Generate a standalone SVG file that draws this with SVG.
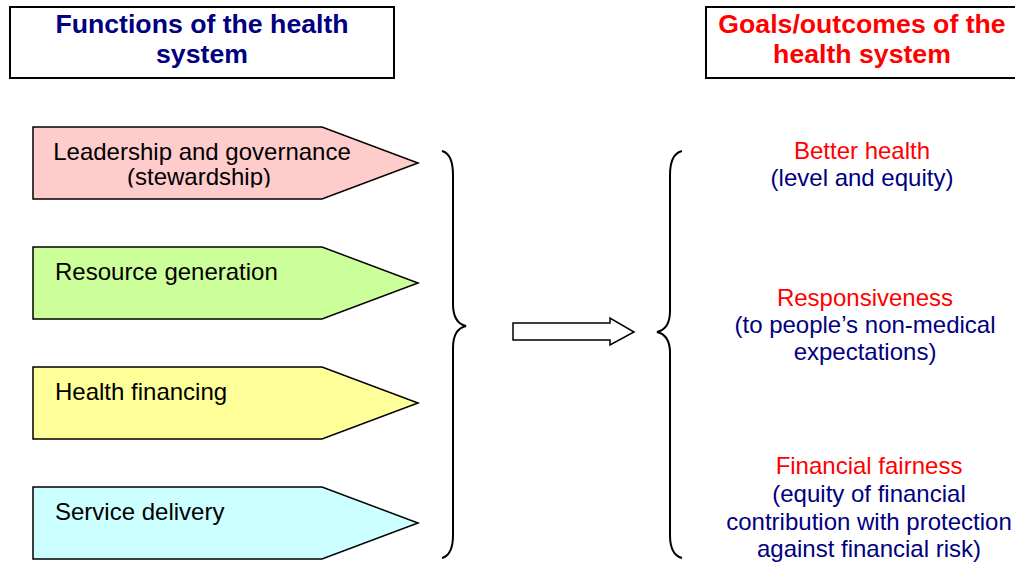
<svg xmlns="http://www.w3.org/2000/svg" width="1015" height="563" viewBox="0 0 1015 563">
  <style>
    .hdr { fill: #ffffff; stroke: #000000; stroke-width: 2; }
    .hdr-t { font-family: "Liberation Sans", Arial, sans-serif; font-size: 26.67px; font-weight: bold; text-anchor: middle; }
    .navy { fill: #000080; }
    .red { fill: #ff0000; }
    .penta { stroke: #000000; stroke-width: 1.5; stroke-linejoin: miter; }
    .lbl { font-family: "Liberation Sans", Arial, sans-serif; font-size: 24px; fill: #000000; }
    .goal { font-family: "Liberation Sans", Arial, sans-serif; font-size: 24px; text-anchor: middle; }
    .brace { fill: none; stroke: #000000; stroke-width: 2; }
  </style>
  <defs>
    <clipPath id="clip-lead">
      <rect x="33" y="127" width="385" height="60.5"/>
    </clipPath>
  </defs>
  <rect width="1015" height="563" fill="#ffffff"/>

  <!-- column headers -->
  <g id="header-functions">
    <rect class="hdr" x="10" y="7" width="384" height="71"/>
    <text class="hdr-t navy" x="202" y="33">Functions of the health</text>
    <text class="hdr-t navy" x="202" y="63">system</text>
  </g>
  <g id="header-goals">
    <rect class="hdr" x="706" y="7" width="320" height="71"/>
    <text class="hdr-t red" x="862" y="33">Goals/outcomes of the</text>
    <text class="hdr-t red" x="862" y="63">health system</text>
  </g>

  <!-- functions -->
  <g id="fn-leadership">
    <polygon class="penta" fill="#ffcccc" points="33,127 322,127 418,163 322,199 33,199"/>
    <g clip-path="url(#clip-lead)">
      <text class="lbl" x="202" y="160" text-anchor="middle">Leadership and governance</text>
      <text class="lbl" x="199" y="185" text-anchor="middle">(stewardship)</text>
    </g>
  </g>
  <g id="fn-resource">
    <polygon class="penta" fill="#ccff99" points="33,247 322,247 418,283 322,319 33,319"/>
    <text class="lbl" x="55" y="280">Resource generation</text>
  </g>
  <g id="fn-financing">
    <polygon class="penta" fill="#ffff99" points="33,367 322,367 418,403 322,439 33,439"/>
    <text class="lbl" x="55" y="400">Health financing</text>
  </g>
  <g id="fn-service">
    <polygon class="penta" fill="#ccffff" points="33,487 322,487 418,523 322,559 33,559"/>
    <text class="lbl" x="55" y="520">Service delivery</text>
  </g>

  <!-- goals -->
  <g id="goal-health">
    <text class="goal red" x="862" y="159">Better health</text>
    <text class="goal navy" x="862" y="186">(level and equity)</text>
  </g>
  <g id="goal-responsiveness">
    <text class="goal red" x="865" y="306">Responsiveness</text>
    <text class="goal navy" x="865" y="333">(to people’s non-medical</text>
    <text class="goal navy" x="865" y="360">expectations)</text>
  </g>
  <g id="goal-fairness">
    <text class="goal red" x="869" y="474">Financial fairness</text>
    <text class="goal navy" x="869" y="502">(equity of financial</text>
    <text class="goal navy" x="869" y="530">contribution with protection</text>
    <text class="goal navy" x="869" y="557">against financial risk)</text>
  </g>

  <!-- braces and block arrow -->
  <g id="connectors">
    <path class="brace" d="M442,151 Q453,154 453,175 L453,304 Q453,323 466,326 Q453,329 453,348 L453,535 Q453,555 442,558"/>
    <path class="brace" d="M682,151 Q670,154 670,175 L670,311 Q670,329 657,332 Q670,335 670,353 L670,535 Q670,555 682,558"/>
    <polygon fill="#ffffff" stroke="#000000" stroke-width="1.5" points="513,323 610,323 610,318 634,332 610,345 610,340 513,340"/>
  </g>
</svg>
